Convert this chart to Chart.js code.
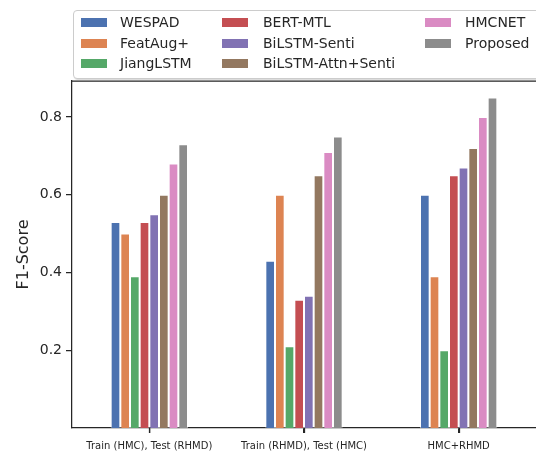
<!DOCTYPE html>
<html>
<head>
<meta charset="utf-8">
<script src="https://cdn.jsdelivr.net/npm/chart.js@4"></script>
<style>
  html, body { margin: 0; padding: 0; background: #fff; overflow: hidden; }
  #wrap { position: relative; width: 536px; height: 452px; }
  #chart { position: absolute; left: 0; top: 0; }
  #legend {
    position: absolute; left: 73px; top: 10px; width: 470px; height: 67px;
    border: 1px solid #cccccc; border-radius: 4px; background: #fff;
    box-shadow: 1px 1px 1px rgba(0,0,0,0.15);
    font-family: "DejaVu Sans", sans-serif; font-size: 14px; color: #262626;
  }
  .item { position: absolute; white-space: nowrap; }
  .sw { position: absolute; width: 26px; height: 9px; }
</style>
</head>
<body>
<div id="wrap">
  <canvas id="chart" width="536" height="452"></canvas>
  <div id="legend"></div>
</div>
<script>
// chart data
var categories = ['Train (HMC), Test (RHMD)', 'Train (RHMD), Test (HMC)', 'HMC+RHMD'];
var models = ['WESPAD', 'FeatAug+', 'JiangLSTM', 'BERT-MTL', 'BiLSTM-Senti', 'BiLSTM-Attn+Senti', 'HMCNET', 'Proposed'];
var wespad = [0.53, 0.43, 0.60];
var featAug = [0.50, 0.60, 0.39];
var jiangLstm = [0.39, 0.21, 0.20];
var bertMtl = [0.53, 0.33, 0.65];
var bilstmSenti = [0.55, 0.34, 0.67];
var bilstmAttn = [0.60, 0.65, 0.72];
var hmcnet = [0.68, 0.71, 0.80];
var proposed = [0.73, 0.75, 0.85];
var yTicks = [0.2, 0.4, 0.6, 0.8];

var seriesValues = [wespad, featAug, jiangLstm, bertMtl, bilstmSenti, bilstmAttn, hmcnet, proposed];
var colors = ['#4C72B0', '#DD8452', '#55A868', '#C44E52', '#8172B3', '#937860', '#DA8BC3', '#8C8C8C'];

var datasets = models.map(function(name, i) {
    return {
        label: name,
        data: seriesValues[i],
        backgroundColor: colors[i],
        borderColor: 'rgba(255,255,255,0.55)',
        borderWidth: 1,
        categoryPercentage: 0.5,
        barPercentage: 1.0
    };
});

var axisColor = '#262626';

// top frame line and x tick marks (matplotlib style)
var frameBits = {
    id: 'frameBits',
    afterDraw: function(chart) {
        var a = chart.chartArea;
        var ctx = chart.ctx;
        var xs = chart.scales.x;
        ctx.save();
        ctx.strokeStyle = axisColor;
        ctx.lineWidth = 1.25;
        ctx.beginPath();
        ctx.moveTo(a.left, a.top);
        ctx.lineTo(a.right + 2, a.top);
        xs.ticks.forEach(function(t, i) {
            var px = Math.round(xs.getPixelForTick(i)) + 0.5;
            ctx.moveTo(px, a.bottom);
            ctx.lineTo(px, a.bottom + 5);
        });
        ctx.stroke();
        ctx.restore();
    }
};

var ctx = document.getElementById('chart').getContext('2d');
var myChart = new Chart(ctx, {
    type: 'bar',
    data: { labels: categories, datasets: datasets },
    plugins: [frameBits],
    options: {
        responsive: false,
        animation: false,
        layout: { padding: { top: 81, right: 0, left: 0, bottom: 0 } },
        plugins: {
            legend: { display: false },
            tooltip: { enabled: false }
        },
        scales: {
            x: {
                grid: { offset: false, drawOnChartArea: false, drawTicks: true, tickLength: 5, color: axisColor, lineWidth: 1.25 },
                border: { color: axisColor, width: 1.25 },
                ticks: { color: axisColor, font: { family: 'DejaVu Sans', size: 10 }, padding: 7, maxRotation: 0 },
                afterFit: function(s) { s.height = 24; }
            },
            y: {
                min: 0,
                max: 0.8925,
                grid: { drawOnChartArea: false, drawTicks: true, tickLength: 6, color: axisColor, lineWidth: 1.25 },
                border: { color: axisColor, width: 1.25 },
                ticks: {
                    color: axisColor,
                    font: { family: 'DejaVu Sans', size: 14 },
                    padding: 4,
                    callback: function(v) { return v.toFixed(1); }
                },
                afterBuildTicks: function(s) {
                    s.ticks = yTicks.map(function(v) { return { value: v }; });
                },
                title: {
                    display: true,
                    text: 'F1-Score',
                    color: axisColor,
                    font: { family: 'DejaVu Sans', size: 16 },
                    padding: { top: 14, bottom: 4 }
                },
                afterFit: function(s) { s.width = 72; }
            }
        }
    }
});

// legend laid out like matplotlib ncol=3 (column-major)
var legend = document.getElementById('legend');
var colSwatch = [7, 148, 351];
var colText = [46, 189, 391];
var rowMid = [12, 33, 53];
models.forEach(function(name, i) {
    var col = Math.floor(i / 3), row = i % 3;
    var sw = document.createElement('div');
    sw.className = 'sw';
    sw.style.left = colSwatch[col] + 'px';
    sw.style.top = (rowMid[row] - 5) + 'px';
    sw.style.background = colors[i];
    legend.appendChild(sw);
    var t = document.createElement('div');
    t.className = 'item';
    t.textContent = name;
    t.style.left = colText[col] + 'px';
    t.style.top = (rowMid[row] - 9) + 'px';
    legend.appendChild(t);
});
</script>
</body>
</html>
